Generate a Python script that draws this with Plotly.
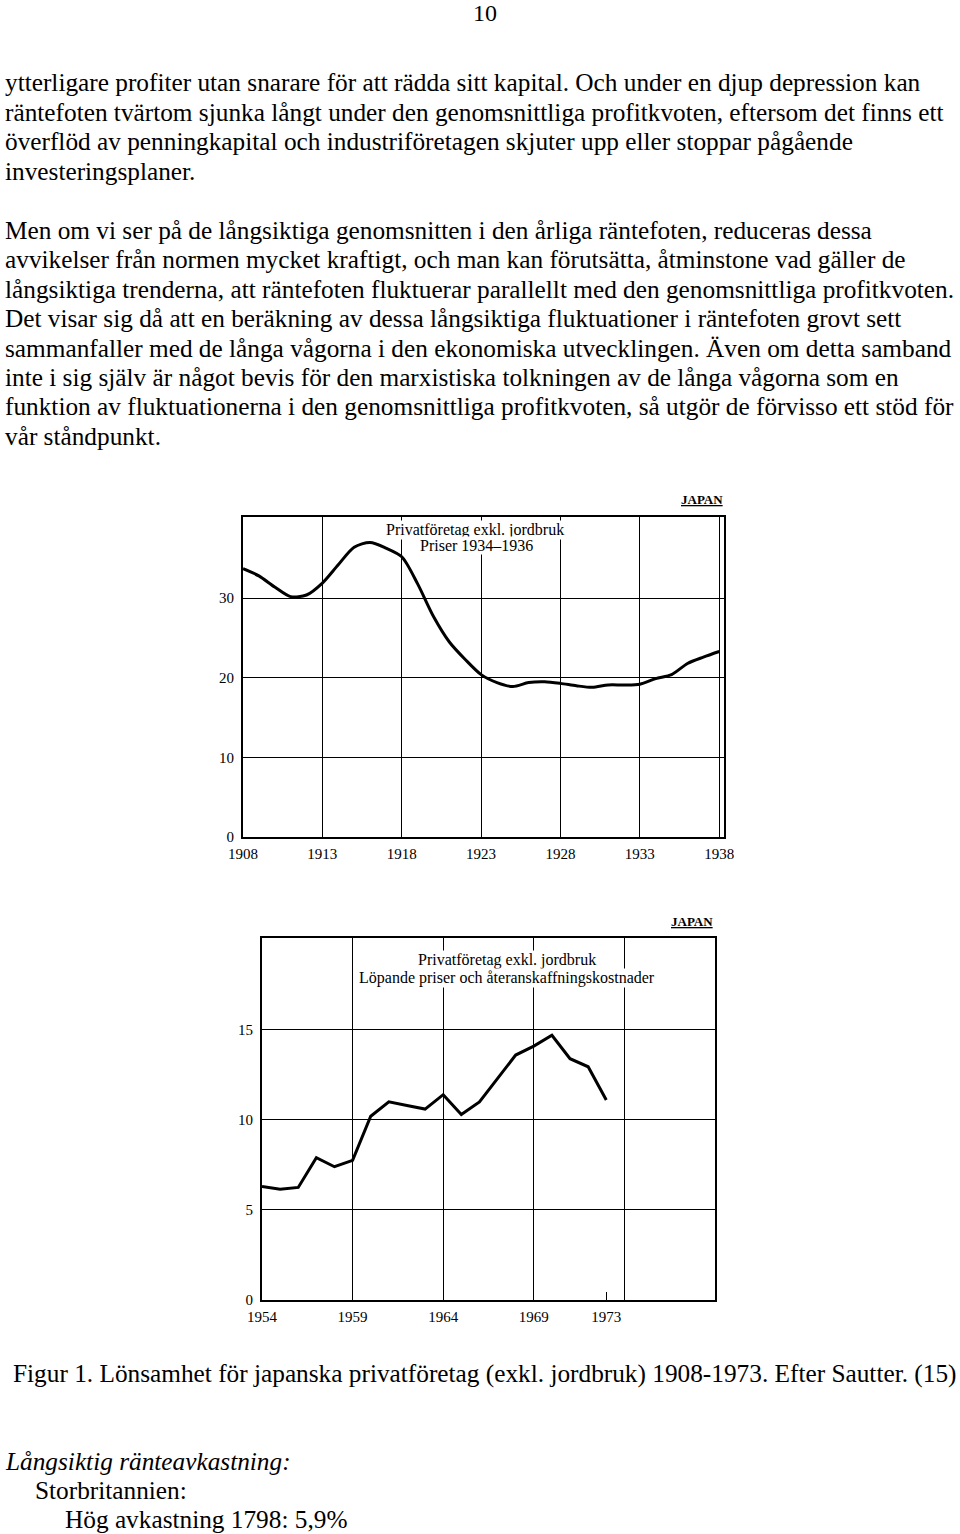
import plotly.graph_objects as go

# ---------------- data ----------------
years_a = list(range(1908, 1939))
profit_a = [33.7, 32.8, 31.4, 30.2, 30.4, 31.9, 34.2, 36.4, 37.0, 36.3,
            35.2, 31.8, 27.7, 24.5, 22.3, 20.4, 19.4, 18.9, 19.4, 19.5,
            19.3, 19.0, 18.8, 19.1, 19.1, 19.2, 19.9, 20.4, 21.8, 22.6, 23.3]

years_b = list(range(1954, 1974))
profit_b = [6.3, 6.15, 6.25, 7.9, 7.4, 7.75, 10.2, 11.0, 10.8, 10.6,
            11.4, 10.3, 11.0, 12.3, 13.6, 14.1, 14.7, 13.4, 12.95, 11.1]

xticks_a = [1908, 1913, 1918, 1923, 1928, 1933, 1938]
yticks_a = [0, 10, 20, 30]
xticks_b = [1954, 1959, 1964, 1969, 1973]
yticks_b = [0, 5, 10, 15]

title_a = ["Privatföretag exkl. jordbruk", "Priser 1934\u20131936"]
title_b = ["Privatföretag exkl. jordbruk", "Löpande priser och återanskaffningskostnader"]
country = "JAPAN"

para1 = [
    "ytterligare profiter utan snarare för att rädda sitt kapital. Och under en djup depression kan",
    "räntefoten tvärtom sjunka långt under den genomsnittliga profitkvoten, eftersom det finns ett",
    "överflöd av penningkapital och industriföretagen skjuter upp eller stoppar pågående",
    "investeringsplaner.",
]
para2 = [
    "Men om vi ser på de långsiktiga genomsnitten i den årliga räntefoten, reduceras dessa",
    "avvikelser från normen mycket kraftigt, och man kan förutsätta, åtminstone vad gäller de",
    "långsiktiga trenderna, att räntefoten fluktuerar parallellt med den genomsnittliga profitkvoten.",
    "Det visar sig då att en beräkning av dessa långsiktiga fluktuationer i räntefoten grovt sett",
    "sammanfaller med de långa vågorna i den ekonomiska utvecklingen. Även om detta samband",
    "inte i sig själv är något bevis för den marxistiska tolkningen av de långa vågorna som en",
    "funktion av fluktuationerna i den genomsnittliga profitkvoten, så utgör de förvisso ett stöd för",
    "vår ståndpunkt.",
]
caption = "Figur 1. Lönsamhet för japanska privatföretag (exkl. jordbruk) 1908-1973. Efter Sautter. (15)"
footer = ["<i>Långsiktig ränteavkastning:</i>", "Storbritannien:", "Hög avkastning 1798: 5,9%"]
footer_indent = [5, 35, 65]

# ---------------- layout helpers ----------------
W, H = 960, 1534
def px(x):
    return x / W
def py(y):
    return 1 - y / H

SERIF = "Liberation Serif"
BODY = 25.3

fig = go.Figure()
fig.add_trace(go.Scatter(x=years_a, y=profit_a, mode="lines", xaxis="x", yaxis="y",
                         line=dict(color="black", width=3, shape="spline", smoothing=0.8),
                         showlegend=False))
fig.add_trace(go.Scatter(x=years_b, y=profit_b, mode="lines", xaxis="x2", yaxis="y2",
                         line=dict(color="black", width=3),
                         showlegend=False))

axis_common = dict(showline=True, mirror=True, linecolor="black", linewidth=2,
                   gridcolor="black", gridwidth=1, zeroline=False, automargin=False,
                   tickfont=dict(family=SERIF, size=15, color="black"),
                   fixedrange=True)

fig.update_layout(
    width=W, height=H, autosize=False,
    margin=dict(l=0, r=0, t=0, b=0, pad=0, autoexpand=False),
    paper_bgcolor="white", plot_bgcolor="white", showlegend=False,
    xaxis=dict(domain=[px(243), px(724)], anchor="y", range=[1908, 1938.3],
               tickmode="array", tickvals=xticks_a, ticktext=[str(v) for v in xticks_a],
               showgrid=True, ticks="", ticklabelstandoff=2, **axis_common),
    yaxis=dict(domain=[py(837), py(517)], anchor="x", range=[0, 40.2],
               tickmode="array", tickvals=yticks_a, ticktext=[str(v) for v in yticks_a],
               showgrid=True, ticks="", ticklabelstandoff=4, **axis_common),
    xaxis2=dict(domain=[px(262), px(715)], anchor="y2", range=[1954, 1979],
                tickmode="array", tickvals=xticks_b, ticktext=[str(v) for v in xticks_b],
                showgrid=False, ticks="inside", ticklen=8, tickcolor="black", tickwidth=1,
                minor=dict(tick0=1954, dtick=5, showgrid=True, gridcolor="black",
                           gridwidth=1, ticks=""),
                ticklabelstandoff=2, **axis_common),
    yaxis2=dict(domain=[py(1300), py(938)], anchor="x2", range=[0, 20.1],
                tickmode="array", tickvals=yticks_b, ticktext=[str(v) for v in yticks_b],
                showgrid=True, ticks="", ticklabelstandoff=4, **axis_common),
)

ann = []
def text(t, x, y, size=BODY, xanchor="left", bg=None):
    d = dict(text=t, x=px(x), y=py(y), xref="paper", yref="paper",
             xanchor=xanchor, yanchor="middle", showarrow=False, borderpad=0,
             font=dict(family=SERIF, size=size, color="black"))
    if bg:
        d["bgcolor"] = bg
    ann.append(d)

text("10", 485, 13, size=24, xanchor="center")
for i, line in enumerate(para1):
    text(line, 4, 82 + i * 29.6)
for i, line in enumerate(para2):
    text(line, 4, 230 + i * 29.4)
text(caption, 484, 1373, xanchor="center")
for i, t in enumerate(footer):
    text(t, footer_indent[i] - 1, 1461 + i * 29.2)

# chart titles
text("<b><u>" + country + "</u></b>", 724, 499, size=13, xanchor="right")
text(title_a[0], 475, 530, size=16, xanchor="center", bg="white")
text(title_a[1], 476, 546, size=16, xanchor="center", bg="white")
text("<b><u>" + country + "</u></b>", 714, 921, size=13, xanchor="right")
text(title_b[0], 507, 960, size=16, xanchor="center", bg="white")
text(title_b[1], 507, 978, size=16, xanchor="center", bg="white")

fig.update_layout(annotations=ann)
fig.write_html("out.html")
